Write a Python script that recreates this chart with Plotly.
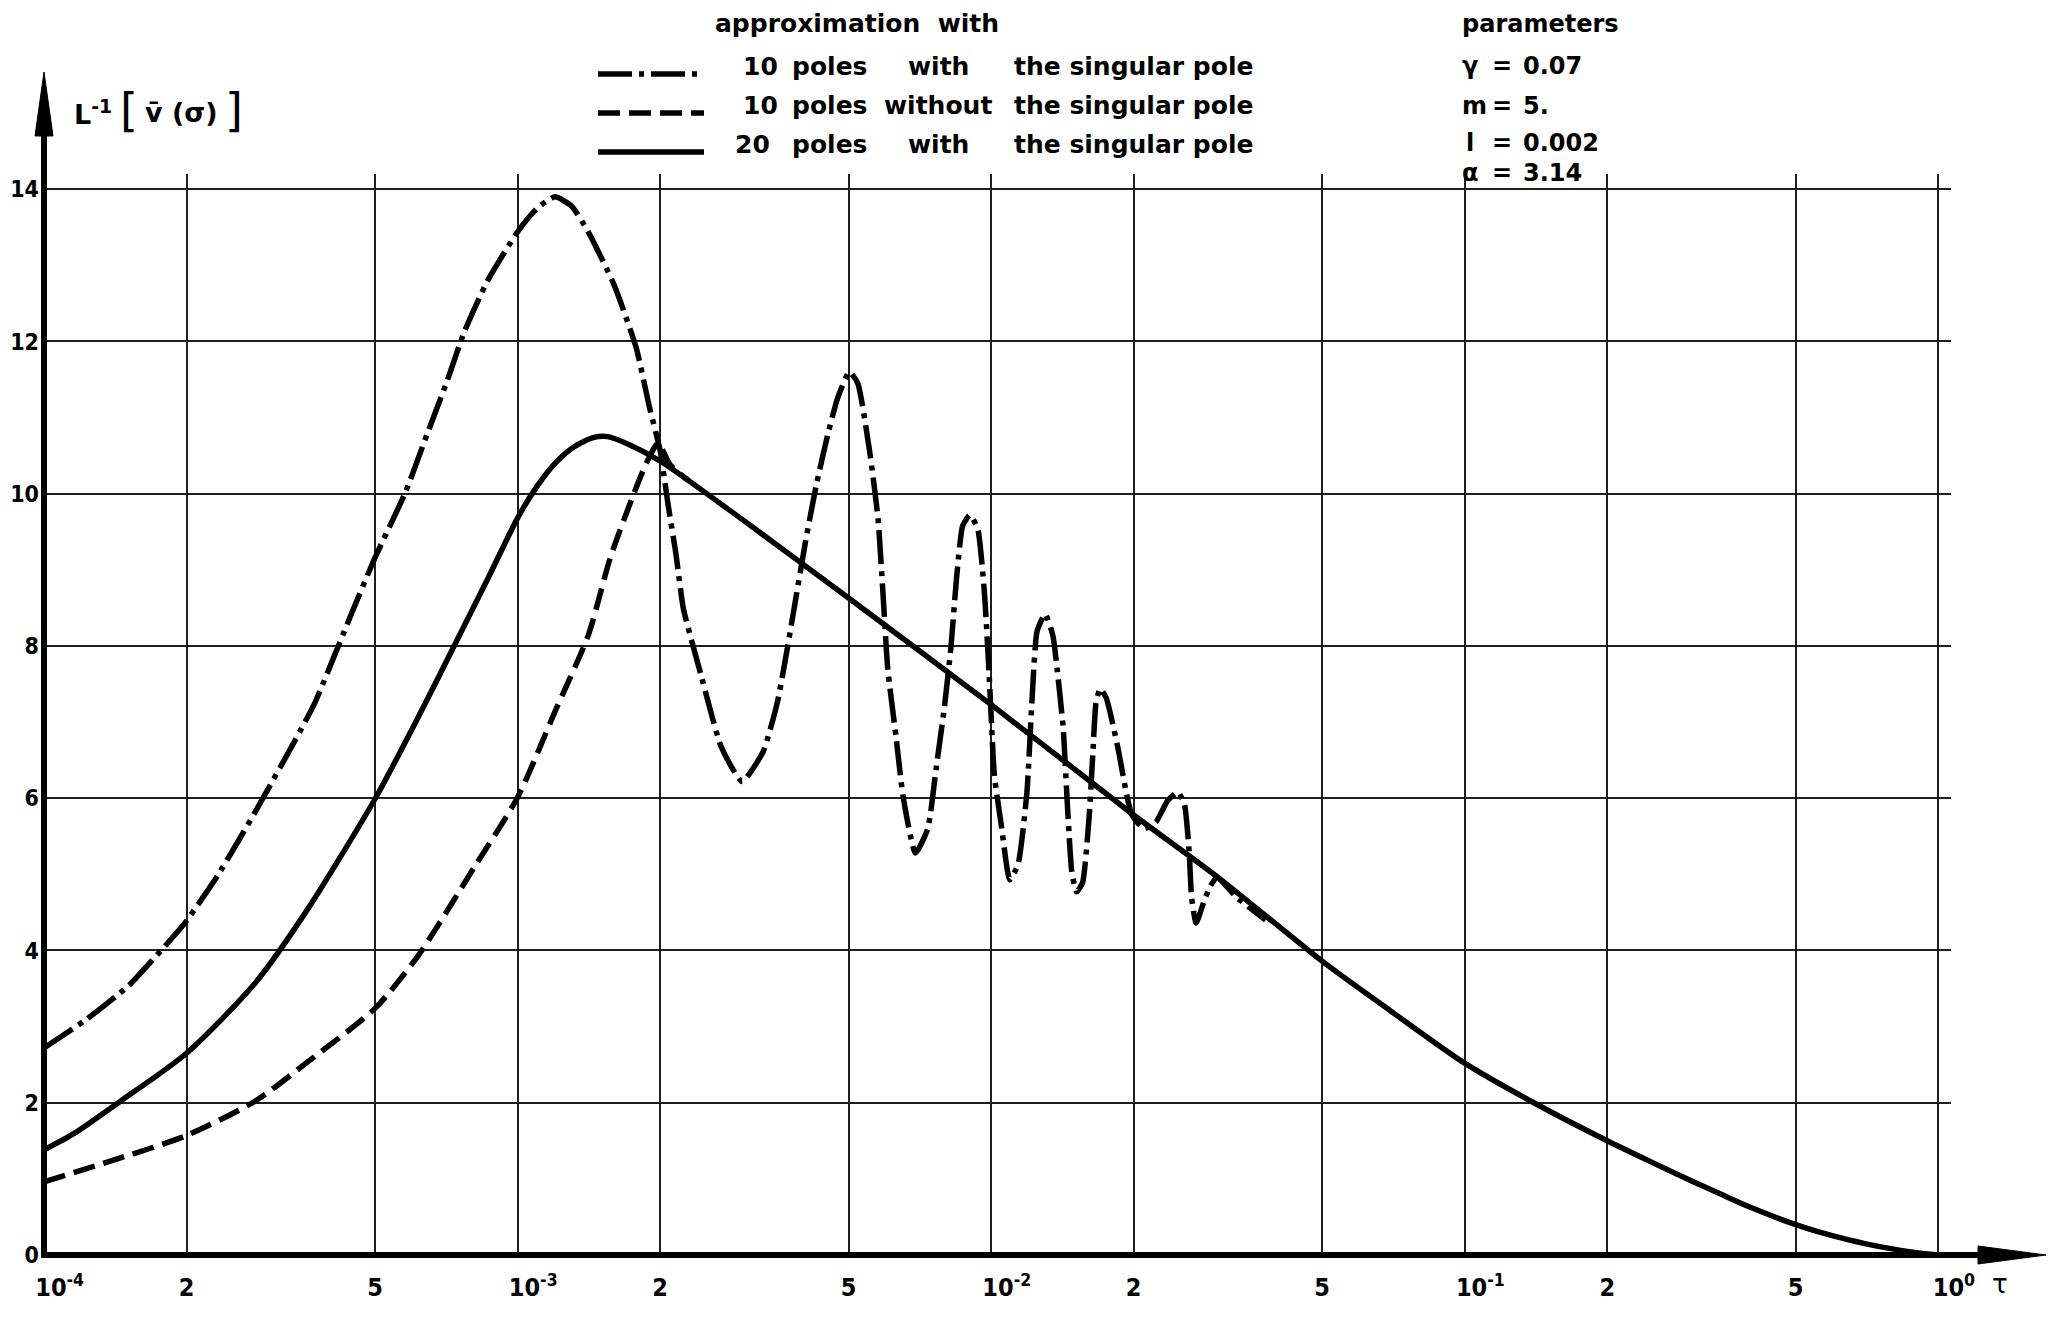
import plotly.graph_objects as go

# ---------------- data ----------------
# 10 poles with the singular pole (dash-dot)
tau_dd = [1.0e-4, 1.22e-4, 1.51e-4, 1.88e-4, 2.0e-4, 2.33e-4, 2.81e-4, 3.39e-4, 3.73e-4,
          4.47e-4, 5.0e-4, 5.79e-4, 6.44e-4, 7.1e-4, 7.7e-4, 8.63e-4, 1.0e-3, 1.1e-3,
          1.2e-3, 1.3e-3, 1.41e-3, 1.6e-3, 1.78e-3, 1.9e-3, 2.0e-3, 2.08e-3, 2.16e-3,
          2.24e-3, 2.44e-3, 2.69e-3, 2.98e-3, 3.3e-3, 3.54e-3, 3.72e-3, 4.05e-3, 4.27e-3,
          4.52e-3, 4.75e-3, 5.02e-3, 5.23e-3, 5.53e-3, 5.77e-3, 5.91e-3, 6.05e-3, 6.3e-3,
          6.52e-3, 6.92e-3, 7.35e-3, 7.65e-3, 7.97e-3, 8.23e-3, 8.45e-3, 8.71e-3, 9.02e-3,
          9.37e-3, 9.68e-3, 9.91e-3, 1.016e-2, 1.05e-2, 1.095e-2, 1.14e-2, 1.19e-2, 1.22e-2,
          1.25e-2, 1.30e-2, 1.35e-2, 1.38e-2, 1.42e-2, 1.45e-2, 1.48e-2, 1.515e-2, 1.56e-2,
          1.61e-2, 1.64e-2, 1.665e-2, 1.70e-2, 1.75e-2, 1.85e-2, 1.93e-2, 1.98e-2, 2.1e-2,
          2.23e-2, 2.36e-2, 2.48e-2, 2.56e-2, 2.62e-2, 2.65e-2, 2.71e-2, 2.82e-2, 2.9e-2,
          3.0e-2, 3.3e-2, 3.8e-2]
v_dd = [2.72, 3.08, 3.54, 4.19, 4.39, 4.99, 5.85, 6.76, 7.25,
        8.44, 9.16, 10.01, 10.78, 11.48, 12.11, 12.79, 13.44, 13.75,
        13.9, 13.78, 13.44, 12.74, 11.92, 11.13, 10.57, 9.85, 9.21,
        8.49, 7.62, 6.68, 6.22, 6.61, 7.27, 8.0, 9.35, 10.1,
        10.78, 11.27, 11.6, 11.45, 10.59, 9.68, 8.7, 7.7, 6.8,
        6.02, 5.28, 5.6, 6.38, 7.2, 8.0, 8.88, 9.58, 9.72,
        9.54, 8.7, 7.6, 6.3, 5.66, 4.93, 5.13, 6.07, 7.29,
        8.19, 8.42, 8.14, 7.67, 6.92, 5.88, 5.04, 4.77, 4.89,
        5.74, 6.59, 7.25, 7.44, 7.32, 6.68, 6.07, 5.79, 5.6,
        5.69, 5.97, 6.08, 5.92, 5.29, 4.7, 4.36, 4.66, 4.84,
        4.96, 4.7, 4.4]

# 10 poles without the singular pole (dashed)
tau_dash = [1.0e-4, 1.36e-4, 2.0e-4, 2.79e-4, 3.61e-4, 5.0e-4, 6.18e-4, 8.15e-4, 1.0e-3,
            1.2e-3, 1.41e-3, 1.57e-3, 1.76e-3, 1.88e-3, 1.98e-3, 2.1e-3, 2.3e-3]
v_dash = [0.96, 1.22, 1.57, 2.02, 2.54, 3.24, 3.94, 5.12, 6.01,
          7.14, 8.14, 9.16, 10.0, 10.43, 10.66, 10.38, 10.17]

# 20 poles with the singular pole (solid)
tau_solid = [1.0e-4, 1.16e-4, 1.45e-4, 2.0e-4, 2.79e-4, 3.61e-4, 5.0e-4, 6.28e-4, 7.4e-4,
             8.6e-4, 1.0e-3, 1.1e-3, 1.2e-3, 1.32e-3, 1.45e-3, 1.55e-3, 1.7e-3, 2.0e-3,
             3.0e-3, 5.0e-3, 1.0e-2, 2.0e-2, 3.0e-2, 5.0e-2, 7.0e-2, 1.0e-1, 1.4e-1,
             2.0e-1, 2.5e-1, 3.0e-1, 3.5e-1, 4.0e-1, 5.0e-1, 6.0e-1, 7.0e-1, 8.0e-1, 9.0e-1, 1.0]
v_solid = [1.38, 1.6, 2.02, 2.65, 3.57, 4.55, 5.99, 7.16, 8.04,
           8.85, 9.68, 10.1, 10.4, 10.62, 10.74, 10.75, 10.66, 10.43,
           9.65, 8.63, 7.23, 5.78, 4.97, 3.86, 3.2, 2.52, 2.0,
           1.5, 1.21, 0.98, 0.79, 0.63, 0.4, 0.25, 0.15, 0.08, 0.03, 0.0]

x_tick_vals = [1e-4, 2e-4, 5e-4, 1e-3, 2e-3, 5e-3, 1e-2, 2e-2, 5e-2, 1e-1, 2e-1, 5e-1, 1.0]
x_tick_text = ["\u2007\u200710<sup>-4</sup>", "2", "5", "\u2007\u200710<sup>-3</sup>", "2", "5",
               "\u2007\u200710<sup>-2</sup>", "2", "5", "\u2007\u200710<sup>-1</sup>", "2", "5",
               "\u2007\u200710<sup>0</sup>"]
y_tick_vals = [0, 2, 4, 6, 8, 10, 12, 14]
y_tick_text = ["0", "2", "4", "6", "8", "10", "12", "14"]

legend_labels = [("10", "poles", "with", "the singular pole"),
                 ("10", "poles", "without", "the singular pole"),
                 ("20", "poles", "with", "the singular pole")]
param_lines = [("\u03b3", "0.07"), ("m", "5."), ("l", "0.002"), ("\u03b1", "3.14")]

# ---------------- layout geometry ----------------
W, H = 2070, 1317
ML, MR, MT, MB = 44, 119, 174, 62
PW, PH = W - ML - MR, H - MT - MB


def xp(px):
    return (px - ML) / PW


def yp(py):
    return (H - MB - py) / PH


LW = 5.5
DASHDOT = "34px,7px,5px,7px"
DASHED = "22px,9px"

fig = go.Figure()
fig.add_trace(go.Scatter(x=tau_dd, y=v_dd, mode="lines", hoverinfo="skip", showlegend=False,
                         line=dict(color="black", width=LW, dash=DASHDOT, shape="spline", smoothing=0.5)))
fig.add_trace(go.Scatter(x=tau_dash, y=v_dash, mode="lines", hoverinfo="skip", showlegend=False,
                         line=dict(color="black", width=LW, dash=DASHED, shape="spline", smoothing=0.7)))
fig.add_trace(go.Scatter(x=tau_solid, y=v_solid, mode="lines", hoverinfo="skip", showlegend=False,
                         line=dict(color="black", width=LW, shape="spline", smoothing=0.7)))

xtick_font = dict(family="DejaVu Sans Condensed, DejaVu Sans", size=25, color="black", weight="bold")
ytick_font = dict(family="DejaVu Sans Condensed, DejaVu Sans", size=23, color="black", weight="bold")
text_font = dict(family="DejaVu Sans", size=25, color="black", weight="bold")

fig.update_layout(
    width=W, height=H,
    margin=dict(l=ML, r=MR, t=MT, b=MB, autoexpand=False),
    paper_bgcolor="white", plot_bgcolor="white",
    xaxis=dict(type="log", range=[-4, 0.027], tickvals=x_tick_vals, ticktext=x_tick_text,
               showgrid=True, gridcolor="#1e1e1e", gridwidth=1.5, zeroline=False, showline=False,
               ticks="", tickfont=xtick_font, ticklabelstandoff=15, fixedrange=True),
    yaxis=dict(range=[0, 14.2], tickvals=y_tick_vals, ticktext=y_tick_text,
               showgrid=True, gridcolor="#1e1e1e", gridwidth=1.5, zeroline=False, showline=False,
               ticks="", tickfont=ytick_font, ticklabelstandoff=4, fixedrange=True),
)

shapes = []
# axes with arrows
shapes.append(dict(type="line", xref="paper", yref="paper", x0=0, x1=xp(1985), y0=0, y1=0,
                   line=dict(color="black", width=6)))
shapes.append(dict(type="path", xref="paper", yref="paper",
                   path=f"M {xp(1978)},{yp(1246)} L {xp(2046)},{yp(1255)} L {xp(1978)},{yp(1264)} Z",
                   fillcolor="black", line=dict(color="black", width=1)))
shapes.append(dict(type="line", xref="paper", yref="paper", x0=0, x1=0, y0=yp(1258), y1=yp(130),
                   line=dict(color="black", width=6)))
shapes.append(dict(type="path", xref="paper", yref="paper",
                   path=f"M {xp(35)},{yp(136)} L {xp(44)},{yp(72)} L {xp(53)},{yp(136)} Z",
                   fillcolor="black", line=dict(color="black", width=1)))
# legend samples
for dash, ly in [(DASHDOT, 74), (DASHED, 113), ("solid", 152)]:
    shapes.append(dict(type="line", xref="paper", yref="paper", x0=xp(598), x1=xp(704),
                       y0=yp(ly), y1=yp(ly), line=dict(color="black", width=LW, dash=dash)))
fig.update_layout(shapes=shapes)

ann = []


def add_text(t, px, py, anchor="left", font=None):
    ann.append(dict(text=t, x=xp(px), y=yp(py), xref="paper", yref="paper", showarrow=False,
                    xanchor=anchor, yanchor="middle", font=dict(font or text_font)))


add_text("approximation  with", 713, 23)
for (n, poles, w, rest), ty in zip(legend_labels, [67, 106, 145]):
    add_text(n, 741 if n == "10" else 733, ty)
    add_text(poles, 790, ty)
    add_text(w, 938, ty, anchor="center")
    add_text(rest, 1012, ty)

pfont = dict(family="DejaVu Sans", size=24, color="black", weight="bold")
add_text("parameters", 1460, 24, font=pfont)
for (sym, val), ty in zip(param_lines, [66, 106, 143, 173]):
    add_text(sym, 1460 if sym != "l" else 1464, ty, font=pfont)
    add_text("=", 1502, ty, anchor="center", font=pfont)
    add_text(val, 1521, ty, font=pfont)

# y-axis title
yt_font = dict(family="DejaVu Sans", size=27, color="black", weight="bold")
add_text("L<sup>-1</sup>", 72, 112, font=yt_font)
add_text("[", 129, 110, anchor="center", font=dict(family="DejaVu Sans", size=46, color="black"))
add_text("v\u0304 (\u03c3)", 143, 113, font=yt_font)
add_text("]", 234, 110, anchor="center", font=dict(family="DejaVu Sans", size=46, color="black"))
# x-axis symbol
add_text("\u03c4", 2000, 1284, anchor="center", font=dict(family="DejaVu Sans", size=26, color="black"))

fig.update_layout(annotations=ann)

fig.write_html("out.html", config={"displayModeBar": False},
               post_script="document.body.style.margin='0';document.body.style.overflow='hidden';")
